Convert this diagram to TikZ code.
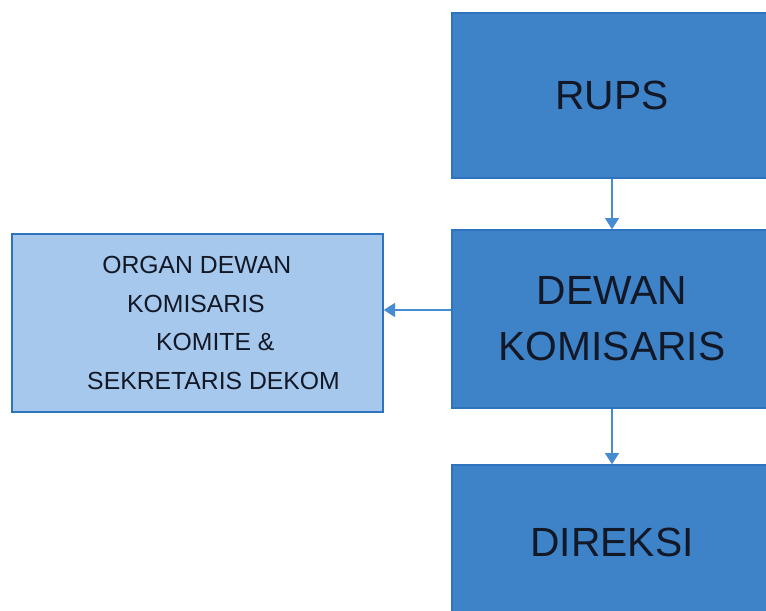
\documentclass[tikz,border=0pt]{standalone}
\usepackage{fontspec}
\setmainfont{Liberation Sans}
\usetikzlibrary{arrows.meta}
\definecolor{boxblue}{RGB}{62,130,200}
\definecolor{lightblue}{RGB}{166,200,236}
\definecolor{edgeblue}{RGB}{45,115,190}
\definecolor{arrowblue}{RGB}{70,140,210}
\definecolor{inkdark}{RGB}{18,24,38}
\begin{document}
\begin{tikzpicture}[x=0.025cm, y=-0.025cm,
        bigbox/.style={draw=edgeblue, line width=1pt, fill=boxblue, text=inkdark,
            font=\fontsize{29}{40}\selectfont, align=center, inner sep=0pt},
        smallbox/.style={draw=edgeblue, line width=1pt, fill=lightblue, text=inkdark,
            font=\fontsize{17.6}{27.5}\selectfont, align=left, inner sep=0pt},
        link/.style={arrowblue, line width=1pt, -{Triangle[width=10pt, length=8pt]}}]
        \clip (0, 0) rectangle (766, 610);

        \node[bigbox, minimum width=8.0cm, minimum height=4.125cm] (rups) at (612, 95.5) {RUPS};
        \node[bigbox, minimum width=8.0cm, minimum height=4.45cm] (dekom) at (612, 319) {DEWAN\\KOMISARIS};
        \node[bigbox, minimum width=8.0cm, minimum height=3.875cm] (direksi) at (612, 542.5) {DIREKSI};
        \node[smallbox, minimum width=9.275cm, minimum height=4.45cm] (organ) at (197.5, 323)
            {\hspace*{33.5pt}ORGAN DEWAN\\\hspace*{51.2pt}KOMISARIS\\\hspace*{71.8pt}KOMITE \&\\\hspace*{22.8pt}SEKRETARIS DEKOM};

        \draw[link] (rups.south) -- (dekom.north);
        \draw[link] (dekom.south) -- (direksi.north);
        \draw[link] ([yshift=0.225cm]dekom.west) -- ([yshift=0.225cm]dekom.west -| organ.east);
    \end{tikzpicture}
\end{document}
